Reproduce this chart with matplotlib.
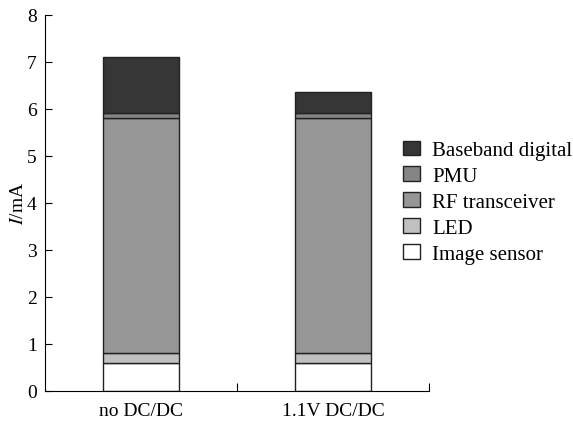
import matplotlib.pyplot as plt
import numpy as np

plt.rcParams["font.family"] = ["Liberation Serif", "DejaVu Serif"]
plt.rcParams["mathtext.fontset"] = "stix"

configs = ["no DC/DC", "1.1V DC/DC"]
components = ["Image sensor", "LED", "RF transceiver", "PMU", "Baseband digital"]
# current per component, mA
image_sensor = [0.6, 0.6]
led = [0.2, 0.2]
rf = [5.0, 5.0]
pmu = [0.1, 0.1]
baseband = [1.2, 0.45]
colors = ["#ffffff", "#c0c0c0", "#969696", "#858585", "#363636"]

series = [image_sensor, led, rf, pmu, baseband]

fig = plt.figure(figsize=(5.73, 4.31), dpi=100)
ax = fig.add_axes([45 / 573, 39.3 / 431, 384 / 573, 376 / 431])

x = np.arange(len(configs)) + 0.5
bottom = np.zeros(len(configs))
handles = []
for name, vals, c in zip(components, series, colors):
    h = ax.bar(x, vals, width=0.4, bottom=bottom, color=c, edgecolor="#222222",
               linewidth=1.0, label=name)
    handles.append(h)
    bottom += np.array(vals)

ax.set_xlim(0, 2)
ax.set_ylim(0, 8)
ax.set_yticks(range(9))
ax.set_xticks([1, 2])
ax.set_xticklabels([])
ax.set_xticks(x, minor=True)
ax.set_xticklabels(configs, minor=True)
ax.tick_params(axis="x", which="minor", length=0, pad=8, labelsize=14)
ax.tick_params(axis="x", which="major", direction="in", length=6)
ax.tick_params(axis="y", direction="in", length=5, labelsize=14, pad=6)
ax.spines["top"].set_visible(False)
ax.spines["right"].set_visible(False)
ax.set_ylabel("$I$/mA", fontsize=14, labelpad=0)

ax.legend(handles[::-1], components[::-1], loc="upper left",
          bbox_to_anchor=(0.932, 0.665), frameon=False, fontsize=15,
          handlelength=0.8, handleheight=0.7, handletextpad=0.6,
          labelspacing=0.3, borderaxespad=0, borderpad=0)

fig.savefig("out.png", dpi=100)
